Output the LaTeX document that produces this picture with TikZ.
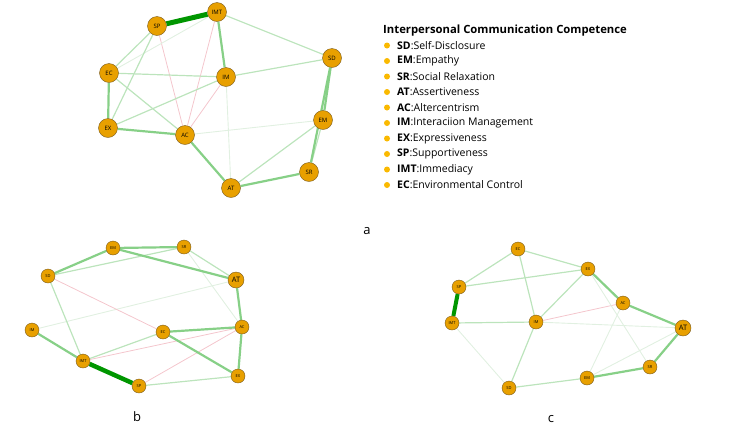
\documentclass[tikz,border=0pt]{standalone}
\usepackage{fontspec}
\setmainfont{Open Sans}
\usepackage{xcolor}
\usetikzlibrary{backgrounds}

\definecolor{nodeorange}{RGB}{232,160,0}
\definecolor{nodeedge}{RGB}{120,90,30}
\definecolor{bullet}{RGB}{250,185,0}
\definecolor{darkgrn}{RGB}{0,150,0}
\definecolor{midgrn}{RGB}{135,208,135}
\definecolor{lightgrn}{RGB}{188,228,188}
\definecolor{faintgrn}{RGB}{225,240,225}
\definecolor{negpink}{RGB}{244,198,205}

\begin{document}
\begin{tikzpicture}[
      x=1pt, y=-1pt,
      nd/.style={circle, draw=nodeedge, fill=nodeorange, inner sep=0pt,
        minimum size=19pt, font=\fontsize{6}{6}\selectfont},
      ndsmall/.style={nd, minimum size=14pt, font=\fontsize{4}{4}\selectfont},
      ndbig/.style={nd, minimum size=16pt, font=\fontsize{7.5}{7.5}\selectfont},
      strong/.style={draw=darkgrn, line width=4.5pt},
      mid/.style={draw=midgrn, line width=2.2pt},
      light/.style={draw=lightgrn, line width=1.2pt},
      faint/.style={draw=faintgrn, line width=0.9pt},
      neg/.style={draw=negpink, line width=0.8pt},
      item/.style={anchor=west, font=\fontsize{10.5}{10.5}\selectfont, inner sep=0pt},
      dot/.style={circle, fill=bullet, inner sep=0pt, minimum size=6pt},
      tag/.style={font=\fontsize{13}{13}\selectfont}
    ]
    \useasboundingbox (0,0) rectangle (750,432);

    % panel a
    \node[nd] (aSP) at (157,26) {SP};
    \node[nd] (aIMT) at (217,12) {IMT};
    \node[nd] (aEC) at (109,73) {EC};
    \node[nd] (aIM) at (226,77) {IM};
    \node[nd] (aSD) at (332,58) {SD};
    \node[nd] (aEX) at (108,128) {EX};
    \node[nd] (aAC) at (185,135) {AC};
    \node[nd] (aEM) at (323,120) {EM};
    \node[nd] (aSR) at (309,172) {SR};
    \node[nd] (aAT) at (231,188) {AT};

    \begin{scope}[on background layer]
      \draw[faint] (aIM) -- (aAT);
      \draw[neg] (aIM) -- (aAC);
      \draw[faint] (aAC) -- (aEM);
      \draw[neg] (aSP) -- (aAC);
      \draw[neg] (aIMT) -- (aAC);
      \draw[light] (aIMT) -- (aSD);
      \draw[faint] (aIMT) -- (aEC);
      \draw[light] (aSP) -- (aEC);
      \draw[light] (aSP) -- (aEX);
      \draw[light] (aEC) -- (aIM);
      \draw[light] (aEX) -- (aIM);
      \draw[light] (aIM) -- (aSD);
      \draw[light] (aEC) -- (aAC);
      \draw[light] (aEM) -- (aAT);
      \draw[light] (aEM) -- (aSR);
      \draw[mid] (aIMT) -- (aIM);
      \draw[mid] (aEC) -- (aEX);
      \draw[mid] (aEX) -- (aAC);
      \draw[mid] (aAC) -- (aAT);
      \draw[mid] (aSD) -- (aEM);
      \draw[mid] (aSD) -- (aSR);
      \draw[mid] (aAT) -- (aSR);
      \draw[strong, line width=5pt] (aSP) -- (aIMT);
    \end{scope}

    % legend
    \node[item, font=\fontsize{11.3}{11.3}\selectfont\bfseries] (ttl) at (383,31)
      {Interpersonal Communication Competence};
    \foreach \ab/\txt [count=\i] in {SD/Self-Disclosure, EM/Empathy,
        SR/Social Relaxation, AT/Assertiveness, AC/Altercentrism,
        IM/Interaciion Management, EX/Expressiveness, SP/Supportiveness,
        IMT/Immediacy, EC/Environmental Control} {
      \node[dot] (b\i) at (387,30+15.5*\i) {};
      \node[item] (l\i) at (397,30+15.5*\i) {\textbf{\ab}:\txt};
    }

    % panel b
    \node[ndsmall] (bEM) at (113,248) {EM};
    \node[ndsmall] (bSR) at (184,247) {SR};
    \node[ndsmall] (bSD) at (48,276) {SD};
    \node[ndbig] (bAT) at (236,280) {AT};
    \node[ndsmall] (bIM) at (32,330) {IM};
    \node[ndsmall] (bEC) at (163,332) {EC};
    \node[ndsmall] (bAC) at (242,327) {AC};
    \node[ndsmall] (bIMT) at (83,361) {IMT};
    \node[ndsmall] (bSP) at (139,386) {SP};
    \node[ndsmall] (bEX) at (238,376) {EX};

    \begin{scope}[on background layer]
      \draw[faint] (bIM) -- (bAT);
      \draw[neg] (bSD) -- (bEC);
      \draw[neg] (bIMT) -- (bAC);
      \draw[neg] (bSP) -- (bAC);
      \draw[light] (bSD) -- (bSR);
      \draw[light] (bSR) -- (bAT);
      \draw[faint] (bSR) -- (bAC);
      \draw[light] (bSD) -- (bIMT);
      \draw[light] (bIMT) -- (bEC);
      \draw[light] (bSP) -- (bEX);
      \draw[mid] (bSD) -- (bEM);
      \draw[mid] (bEM) -- (bSR);
      \draw[mid] (bEM) -- (bAT);
      \draw[mid] (bIM) -- (bIMT);
      \draw[mid] (bEC) -- (bAC);
      \draw[mid] (bEC) -- (bEX);
      \draw[mid] (bAT) -- (bAC);
      \draw[mid] (bAC) -- (bEX);
      \draw[strong] (bIMT) -- (bSP);
    \end{scope}

    % panel c
    \node[ndsmall] (cEC) at (518,249) {EC};
    \node[ndsmall] (cEX) at (588,269) {EX};
    \node[ndsmall] (cSP) at (459,287) {SP};
    \node[ndsmall] (cAC) at (623,303) {AC};
    \node[ndsmall] (cIMT) at (452,323) {IMT};
    \node[ndsmall] (cIM) at (536,322) {IM};
    \node[ndbig] (cAT) at (683,328) {AT};
    \node[ndsmall] (cSR) at (650,367) {SR};
    \node[ndsmall] (cEM) at (587,378) {EM};
    \node[ndsmall] (cSD) at (509,388) {SD};

    \begin{scope}[on background layer]
      \draw[faint] (cIM) -- (cAT);
      \draw[faint] (cIMT) -- (cSD);
      \draw[neg] (cIM) -- (cAC);
      \draw[faint] (cEX) -- (cSR);
      \draw[faint] (cAC) -- (cEM);
      \draw[faint] (cAT) -- (cEM);
      \draw[light] (cEC) -- (cSP);
      \draw[light] (cEC) -- (cEX);
      \draw[light] (cEC) -- (cIM);
      \draw[light] (cSP) -- (cEX);
      \draw[light] (cEX) -- (cIM);
      \draw[light] (cIMT) -- (cIM);
      \draw[light] (cIM) -- (cSD);
      \draw[light] (cSD) -- (cEM);
      \draw[mid] (cEX) -- (cAC);
      \draw[mid] (cAC) -- (cAT);
      \draw[mid] (cAT) -- (cSR);
      \draw[mid] (cEM) -- (cSR);
      \draw[strong, line width=4pt] (cSP) -- (cIMT);
    \end{scope}

    % panel tags
    \node[tag] (ta) at (367,231) {a};
    \node[tag] (tb) at (137,417) {b};
    \node[tag] (tc) at (551,419) {c};
  \end{tikzpicture}
\end{document}
